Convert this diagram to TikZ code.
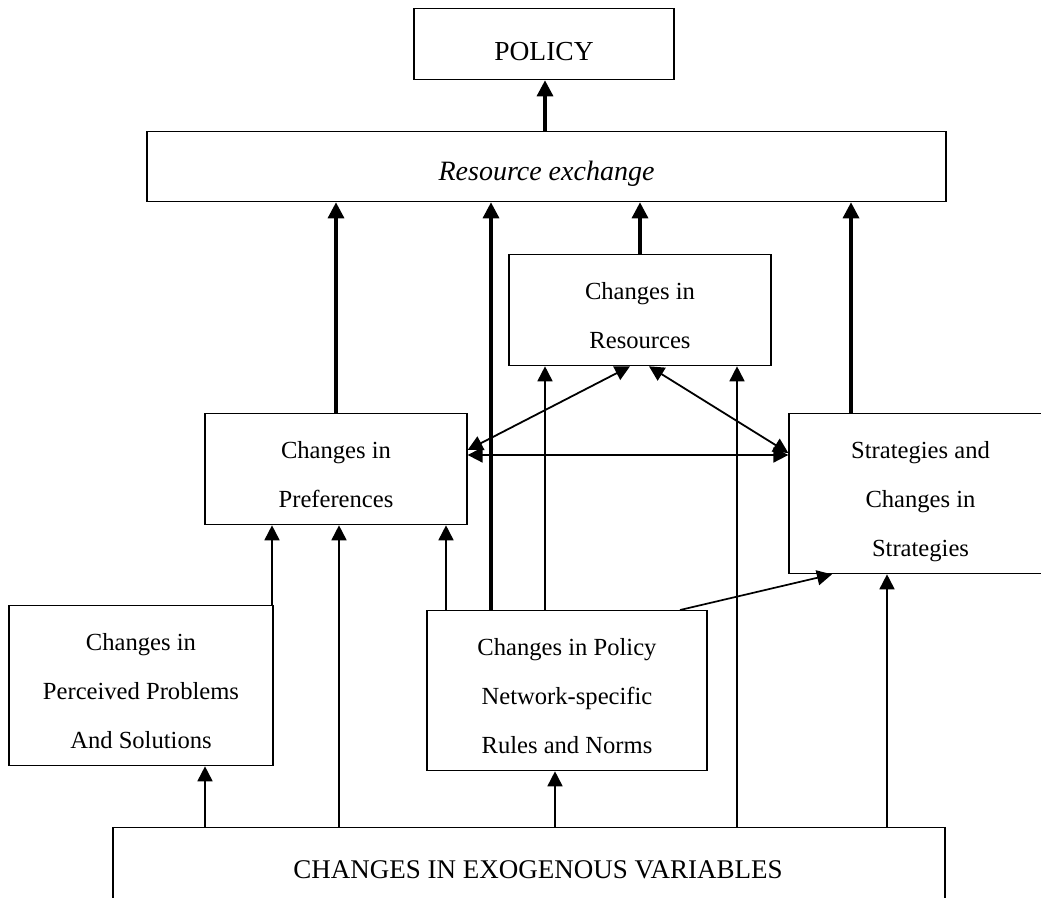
\documentclass[tikz,border=0pt]{standalone}
\usepackage{fontspec}
\setmainfont{Liberation Serif}
\usetikzlibrary{arrows.meta}
\newcommand{\boxtop}{\rule{0pt}{45pt}}
\newcommand{\boxbot}{\rule[-17pt]{0pt}{17pt}}

\begin{document}
\begin{tikzpicture}[x=1pt,y=-1pt,
    lbl/.style={draw, line width=1.3pt, anchor=north, inner sep=0pt, font=\fontsize{27.5pt}{33pt}\selectfont},
    chg/.style={draw, line width=1.3pt, anchor=north, align=center, inner sep=0pt, font=\fontsize{24.6pt}{49pt}\selectfont},
    arr/.style={line width=1.7pt, -{Triangle[length=15pt,width=15pt]}},
    bigarr/.style={line width=3.3pt, -{Triangle[length=16pt,width=16pt]}},
    twoway/.style={line width=1.8pt, {Triangle[length=15pt,width=15pt]}-{Triangle[length=15pt,width=15pt]}}]
        \useasboundingbox (0,0) rectangle (1041,897);

        \node[lbl, minimum width=260pt, text height=52pt, text depth=19pt] (policy) at (544,8) {POLICY};
        \node[lbl, minimum width=799pt, text height=49pt, text depth=21pt, font=\fontsize{28pt}{33pt}\selectfont\itshape] (resx) at (546.5,131) {Resource exchange};
        \node[lbl, minimum width=832pt, text height=51pt, text depth=40pt, font=\fontsize{27pt}{33pt}\selectfont] (exo) at (529,827) {\hspace*{18pt}CHANGES IN EXOGENOUS VARIABLES};

        \node[chg, minimum width=262pt] (res) at (640,254) {\boxtop Changes in\\Resources\boxbot};
        \node[chg, minimum width=262pt] (pref) at (336,413) {\boxtop Changes in\\Preferences\boxbot};
        \node[chg, minimum width=263pt] (strat) at (920.5,413) {\boxtop Strategies and\\Changes in\\Strategies\boxbot};
        \node[chg, minimum width=264pt] (perc) at (141,605) {\boxtop Changes in\\Perceived Problems\\And Solutions\boxbot};
        \node[chg, minimum width=280pt] (rules) at (567,610) {\boxtop Changes in Policy\\Network-specific\\Rules and Norms\boxbot};

        % into the exchange and the policy
        \draw[bigarr] (resx.north -| 545,0) -- (policy.south -| 545,0);
        \draw[bigarr] (pref.north) -- (resx.south -| pref.north);
        \draw[bigarr] (rules.north -| 491,0) -- (resx.south -| 491,0);
        \draw[bigarr] (res.north) -- (resx.south -| res.north);
        \draw[bigarr] (strat.north -| 851,0) -- (resx.south -| 851,0);

        % from the exogenous variables
        \draw[arr] (exo.north -| 205,0) -- (perc.south -| 205,0);
        \draw[arr] (exo.north -| 339,0) -- (pref.south -| 339,0);
        \draw[arr] (exo.north -| 555,0) -- (rules.south -| 555,0);
        \draw[arr] (exo.north -| 737,0) -- (res.south -| 737,0);
        \draw[arr] (exo.north -| 887,0) -- (strat.south -| 887,0);

        \draw[arr] (perc.north -| 272,0) -- (pref.south -| 272,0);
        \draw[arr] (rules.north -| 446,0) -- (pref.south -| 446,0);
        \draw[arr] (rules.north -| 545,0) -- (res.south -| 545,0);
        \draw[arr] (rules.north -| 680,0) -- (strat.south -| 832,0);

        \draw[twoway] (pref.east |- 0,455) -- (strat.west |- 0,455);
        \draw[twoway] (pref.east |- 0,450) -- (res.south -| 630,0);
        \draw[twoway] (res.south -| 649,0) -- (strat.west |- 0,453);

    \end{tikzpicture}
\end{document}
